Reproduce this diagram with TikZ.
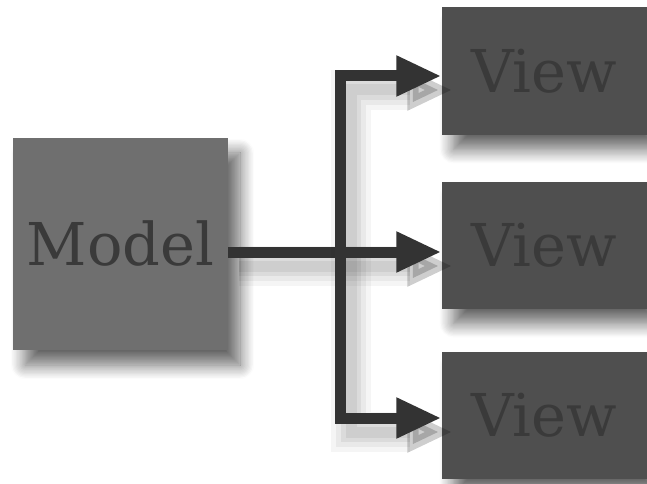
\documentclass[tikz,border=0pt]{standalone}
\usepackage{fontspec}
\setmainfont{DejaVu Serif}
\usepackage{xcolor}
\usetikzlibrary{positioning,arrows.meta,calc,shadows.blur}
\definecolor{modelgray}{HTML}{6F6F6F}
\definecolor{viewgray}{HTML}{4F4F4F}
\definecolor{inkgray}{HTML}{3A3A3A}
\definecolor{wiregray}{HTML}{333333}

\begin{document}
\begin{tikzpicture}[
    x=1pt, y=1pt,
    box/.style={
        minimum width=205pt, minimum height=127pt, inner sep=0pt,
        font=\fontsize{59}{59}\selectfont, text=inkgray,
        blur shadow={shadow xshift=12pt, shadow yshift=-15pt,
                     shadow blur radius=14pt, shadow blur steps=12,
                     shadow opacity=60}
    },
    % soft shadow under the wires, built from a few wide faint strokes
    wire/.style={line width=11pt, draw=wiregray,
        preaction={draw=black, opacity=0.04, line width=40pt,
                   transform canvas={shift={(11pt,-14pt)}}},
        preaction={draw=black, opacity=0.05, line width=30pt,
                   transform canvas={shift={(11pt,-14pt)}}},
        preaction={draw=black, opacity=0.06, line width=20pt,
                   transform canvas={shift={(11pt,-14pt)}}},
        preaction={draw=black, opacity=0.06, line width=11pt,
                   transform canvas={shift={(11pt,-14pt)}}}},
    arr/.style={wire, -{Triangle[length=45pt,width=38pt]}}
]
    \useasboundingbox (0,0) rectangle (647,483);

    \node[box, fill=modelgray, minimum width=215pt, minimum height=212pt]
        (model) at (120.5,239) {Model};

    \node[box, fill=viewgray] (view1) at (544,412) {View};
    \node[box, fill=viewgray] (view2) at (544,238) {View};
    \node[box, fill=viewgray] (view3) at (544,68) {View};

    % one wire out of the model, split to every view
    \coordinate (split) at (340,231);
    \draw[wire] (model.east |- split) -- (split);
    \draw[arr] (split) |- ([yshift=-5pt]view1.west);
    \draw[arr] (split) -- (view2.west |- split);
    \draw[arr] (split) |- ([yshift=-3pt]view3.west);
\end{tikzpicture}
\end{document}
